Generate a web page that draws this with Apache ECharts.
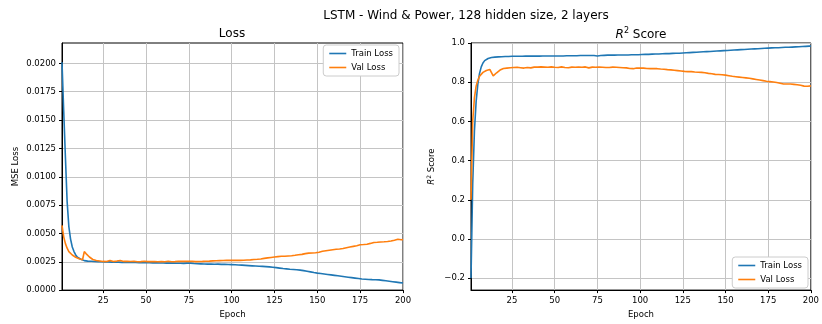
<!DOCTYPE html>
<html>
<head>
<meta charset="utf-8">
<script src="https://cdn.jsdelivr.net/npm/echarts@6/dist/echarts.min.js"></script>
<style>
  html, body { margin: 0; padding: 0; background: #fff; }
  #main { width: 822px; height: 324px; }
</style>
</head>
<body>
<div id="main"></div>
<script>
// values, epochs 1..200
var trainLoss = [
  0.0201, 0.0158, 0.0117, 0.0078, 0.0056, 0.0045, 0.0038, 0.0034, 0.0031, 0.0029,
  0.00280, 0.00272, 0.00265, 0.00260, 0.00258, 0.00256, 0.00255, 0.00254, 0.00253, 0.00252,
  0.00251, 0.00251, 0.00250, 0.00250, 0.00249, 0.00249, 0.00248, 0.00249, 0.00248, 0.00247,
  0.00247, 0.00247, 0.00246, 0.00247, 0.00246, 0.00245, 0.00246, 0.00245, 0.00244, 0.00245,
  0.00244, 0.00244, 0.00243, 0.00244, 0.00243, 0.00242, 0.00243, 0.00242, 0.00242, 0.00241,
  0.00242, 0.00241, 0.00241, 0.00240, 0.00241, 0.00240, 0.00240, 0.00239, 0.00240, 0.00239,
  0.00239, 0.00238, 0.00239, 0.00238, 0.00237, 0.00238, 0.00237, 0.00237, 0.00236, 0.00237,
  0.00236, 0.00236, 0.00237, 0.00238, 0.00240, 0.00238, 0.00236, 0.00234, 0.00233, 0.00232,
  0.00232, 0.00231, 0.00231, 0.00230, 0.00230, 0.00229, 0.00229, 0.00230, 0.00229, 0.00228,
  0.00228, 0.00229, 0.00228, 0.00227, 0.00227, 0.00228, 0.00227, 0.00226, 0.00227, 0.00225,
  0.00225, 0.00224, 0.00223, 0.00222, 0.00221, 0.00220, 0.00219, 0.00218, 0.00217, 0.00216,
  0.00215, 0.00214, 0.00213, 0.00212, 0.00211, 0.00210, 0.00210, 0.00209, 0.00208, 0.00207,
  0.00206, 0.00205, 0.00204, 0.00202, 0.00200, 0.00198, 0.00196, 0.00194, 0.00192, 0.00190,
  0.00188, 0.00187, 0.00185, 0.00184, 0.00183, 0.00182, 0.00180, 0.00179, 0.00178, 0.00176,
  0.00174, 0.00172, 0.00170, 0.00167, 0.00164, 0.00161, 0.00158, 0.00155, 0.00152, 0.00150,
  0.00148, 0.00146, 0.00144, 0.00142, 0.00140, 0.00138, 0.00136, 0.00134, 0.00132, 0.00130,
  0.00128, 0.00126, 0.00124, 0.00122, 0.00120, 0.00118, 0.00116, 0.00114, 0.00112, 0.00110,
  0.00108, 0.00106, 0.00104, 0.00102, 0.00100, 0.00098, 0.00097, 0.00096, 0.00095, 0.00094,
  0.00093, 0.00092, 0.00092, 0.00091, 0.00090, 0.00090, 0.00088, 0.00086, 0.00084, 0.00082,
  0.00080, 0.00078, 0.00076, 0.00074, 0.00072, 0.00070, 0.00068, 0.00066, 0.00064, 0.00062
];
var valLoss = [
  0.0057, 0.0047, 0.0041, 0.0037, 0.0034, 0.0033, 0.0031, 0.0030, 0.0029, 0.0028,
  0.00276, 0.00272, 0.00268, 0.00340, 0.00322, 0.00305, 0.00292, 0.00280, 0.00270, 0.00264,
  0.00261, 0.00259, 0.00257, 0.00255, 0.00253, 0.00254, 0.00252, 0.00253, 0.00262, 0.00255,
  0.00253, 0.00258, 0.00256, 0.00254, 0.00261, 0.00257, 0.00253, 0.00252, 0.00254, 0.00251,
  0.00252, 0.00250, 0.00254, 0.00251, 0.00250, 0.00253, 0.00251, 0.00250, 0.00255, 0.00252,
  0.00251, 0.00254, 0.00252, 0.00250, 0.00251, 0.00253, 0.00250, 0.00254, 0.00252, 0.00251,
  0.00250, 0.00252, 0.00255, 0.00251, 0.00250, 0.00253, 0.00251, 0.00250, 0.00254, 0.00256,
  0.00253, 0.00251, 0.00254, 0.00252, 0.00253, 0.00251, 0.00254, 0.00252, 0.00251, 0.00253,
  0.00252, 0.00254, 0.00253, 0.00252, 0.00255, 0.00254, 0.00256, 0.00255, 0.00258, 0.00257,
  0.00259, 0.00258, 0.00260, 0.00262, 0.00261, 0.00264, 0.00262, 0.00260, 0.00262, 0.00261,
  0.00262, 0.00261, 0.00262, 0.00263, 0.00262, 0.00264, 0.00263, 0.00265, 0.00266, 0.00265,
  0.00267, 0.00268, 0.00270, 0.00271, 0.00272, 0.00274, 0.00275, 0.00277, 0.00280, 0.00282,
  0.00284, 0.00286, 0.00288, 0.00290, 0.00292, 0.00293, 0.00295, 0.00296, 0.00298, 0.00297,
  0.00299, 0.00300, 0.00301, 0.00302, 0.00303, 0.00305, 0.00307, 0.00309, 0.00312, 0.00314,
  0.00315, 0.00318, 0.00322, 0.00324, 0.00326, 0.00326, 0.00327, 0.00328, 0.00329, 0.00331,
  0.00334, 0.00338, 0.00342, 0.00345, 0.00347, 0.00350, 0.00352, 0.00354, 0.00356, 0.00357,
  0.00360, 0.00361, 0.00363, 0.00365, 0.00367, 0.00370, 0.00374, 0.00377, 0.00380, 0.00383,
  0.00386, 0.00389, 0.00392, 0.00396, 0.00400, 0.00401, 0.00402, 0.00403, 0.00405, 0.00409,
  0.00412, 0.00416, 0.00420, 0.00424, 0.00422, 0.00424, 0.00425, 0.00424, 0.00426, 0.00427,
  0.00429, 0.00430, 0.00433, 0.00436, 0.00440, 0.00444, 0.00448, 0.00446, 0.00444, 0.00445
];
var trainR2 = [
  -0.20, 0.28, 0.55, 0.70, 0.79, 0.845, 0.878, 0.898, 0.910, 0.917,
  0.921, 0.924, 0.926, 0.927, 0.928, 0.929, 0.929, 0.930, 0.930, 0.930,
  0.931, 0.931, 0.931, 0.931, 0.932, 0.932, 0.932, 0.931, 0.932, 0.932,
  0.932, 0.932, 0.933, 0.932, 0.933, 0.933, 0.933, 0.933, 0.933, 0.933,
  0.933, 0.933, 0.934, 0.933, 0.934, 0.934, 0.934, 0.934, 0.934, 0.934,
  0.934, 0.934, 0.934, 0.935, 0.934, 0.935, 0.935, 0.935, 0.935, 0.935,
  0.935, 0.935, 0.935, 0.935, 0.936, 0.935, 0.936, 0.936, 0.936, 0.936,
  0.936, 0.936, 0.936, 0.935, 0.934, 0.935, 0.936, 0.937, 0.937, 0.937,
  0.938, 0.938, 0.938, 0.938, 0.938, 0.939, 0.939, 0.938, 0.939, 0.939,
  0.939, 0.939, 0.939, 0.940, 0.940, 0.939, 0.940, 0.940, 0.940, 0.941,
  0.941, 0.941, 0.942, 0.942, 0.942, 0.943, 0.943, 0.943, 0.944, 0.944,
  0.944, 0.945, 0.945, 0.945, 0.946, 0.946, 0.946, 0.947, 0.947, 0.947,
  0.948, 0.948, 0.948, 0.949, 0.949, 0.950, 0.950, 0.951, 0.951, 0.952,
  0.952, 0.953, 0.953, 0.954, 0.954, 0.955, 0.955, 0.956, 0.956, 0.957,
  0.957, 0.958, 0.958, 0.959, 0.959, 0.960, 0.960, 0.961, 0.961, 0.962,
  0.962, 0.963, 0.963, 0.964, 0.964, 0.965, 0.965, 0.966, 0.966, 0.967,
  0.967, 0.968, 0.968, 0.969, 0.969, 0.970, 0.970, 0.971, 0.971, 0.972,
  0.972, 0.973, 0.973, 0.974, 0.974, 0.975, 0.975, 0.975, 0.976, 0.976,
  0.976, 0.977, 0.977, 0.977, 0.978, 0.978, 0.978, 0.979, 0.979, 0.980,
  0.980, 0.980, 0.981, 0.981, 0.982, 0.982, 0.983, 0.983, 0.984, 0.984
];
var valR2 = [
  0.20, 0.60, 0.72, 0.78, 0.81, 0.83, 0.84, 0.85, 0.855, 0.86,
  0.862, 0.865, 0.868, 0.832, 0.840, 0.848, 0.855, 0.862, 0.867, 0.870,
  0.871, 0.872, 0.873, 0.874, 0.876, 0.875, 0.877, 0.876, 0.870, 0.874,
  0.876, 0.872, 0.874, 0.875, 0.871, 0.873, 0.876, 0.877, 0.875, 0.877,
  0.876, 0.878, 0.875, 0.877, 0.878, 0.876, 0.877, 0.878, 0.874, 0.876,
  0.877, 0.875, 0.876, 0.878, 0.877, 0.875, 0.878, 0.874, 0.876, 0.877,
  0.878, 0.876, 0.874, 0.877, 0.878, 0.876, 0.877, 0.878, 0.875, 0.873,
  0.875, 0.877, 0.875, 0.876, 0.875, 0.877, 0.875, 0.876, 0.877, 0.875,
  0.876, 0.875, 0.876, 0.877, 0.875, 0.876, 0.874, 0.875, 0.873, 0.874,
  0.872, 0.873, 0.872, 0.870, 0.871, 0.869, 0.871, 0.872, 0.871, 0.872,
  0.871, 0.872, 0.871, 0.870, 0.871, 0.869, 0.870, 0.869, 0.868, 0.869,
  0.868, 0.867, 0.866, 0.866, 0.865, 0.864, 0.864, 0.863, 0.862, 0.861,
  0.860, 0.859, 0.858, 0.857, 0.856, 0.855, 0.854, 0.854, 0.853, 0.854,
  0.853, 0.852, 0.852, 0.851, 0.851, 0.850, 0.849, 0.848, 0.846, 0.845,
  0.845, 0.843, 0.841, 0.840, 0.839, 0.839, 0.839, 0.838, 0.837, 0.836,
  0.835, 0.833, 0.831, 0.830, 0.829, 0.828, 0.827, 0.826, 0.825, 0.824,
  0.823, 0.822, 0.821, 0.820, 0.819, 0.817, 0.815, 0.814, 0.812, 0.811,
  0.809, 0.808, 0.806, 0.805, 0.803, 0.803, 0.802, 0.801, 0.800, 0.798,
  0.797, 0.795, 0.793, 0.791, 0.792, 0.791, 0.790, 0.791, 0.790, 0.789,
  0.788, 0.787, 0.786, 0.784, 0.782, 0.780, 0.778, 0.779, 0.780, 0.781
];
var epochTicks = [25, 50, 75, 100, 125, 150, 175, 200];
var lossTicks = [0, 0.0025, 0.005, 0.0075, 0.01, 0.0125, 0.015, 0.0175, 0.02];
var r2Ticks = [-0.2, 0, 0.2, 0.4, 0.6, 0.8, 1.0];
var seriesNames = ['Train Loss', 'Val Loss'];

var C_BLUE = '#1f77b4', C_ORANGE = '#ff7f0e';
var FONT = 'DejaVu Sans';

function pairs(arr) {
  var out = [];
  for (var i = 0; i < arr.length; i++) out.push([i + 1, arr[i]]);
  return out;
}

function xAx(gi) {
  return {
    type: 'value', gridIndex: gi, min: 1, max: 200,
    name: 'Epoch', nameLocation: 'middle', nameGap: 17,
    nameTextStyle: { fontFamily: FONT, fontSize: 8.5, color: '#000' },
    axisLine: { show: true, onZero: false, lineStyle: { color: '#000', width: 1 } },
    axisTick: { show: true, customValues: epochTicks, length: 3, lineStyle: { color: '#000' } },
    axisLabel: { customValues: epochTicks, margin: 6, fontFamily: FONT, fontSize: 8.5, color: '#000' },
    splitLine: { show: true, lineStyle: { color: '#c4c4c4', width: 1 } }
  };
}

function yAx(gi, min, max, ticks, digits, name, gap) {
  return {
    type: 'value', gridIndex: gi, min: min, max: max,
    name: name, nameLocation: 'middle', nameGap: gap,
    nameTextStyle: {
      fontFamily: FONT, fontSize: 8.5, color: '#000',
      rich: {
        i: { fontFamily: FONT, fontSize: 8.5, fontStyle: 'italic', color: '#000' },
        s: { fontFamily: FONT, fontSize: 6, color: '#000', verticalAlign: 'top', padding: [0, 0, 5, 0] },
        n: { fontFamily: FONT, fontSize: 8.5, color: '#000' }
      }
    },
    axisLine: { show: true, onZero: false, lineStyle: { color: '#000', width: 1 } },
    axisTick: { show: true, customValues: ticks, length: 3, lineStyle: { color: '#000' } },
    axisLabel: {
      customValues: ticks, margin: 6, fontFamily: FONT, fontSize: 8.5, color: '#000',
      formatter: function (v) { return v < 0 ? '\u2212' + Math.abs(v).toFixed(digits) : v.toFixed(digits); }
    },
    splitLine: { show: true, lineStyle: { color: '#c4c4c4', width: 1 } }
  };
}

function line(name, data, color, xi) {
  return {
    name: name, type: 'line', xAxisIndex: xi, yAxisIndex: xi,
    data: pairs(data), symbol: 'none', smooth: false,
    lineStyle: { color: color, width: 1.6 }, itemStyle: { color: color },
    emphasis: { disabled: true }, animation: false
  };
}

var legendBase = {
  orient: 'vertical', data: seriesNames, icon: 'rect', itemWidth: 17, itemHeight: 1.6, itemGap: 5,
  backgroundColor: '#fff', borderColor: '#cccccc', borderWidth: 1, borderRadius: 3,
  padding: [4, 6, 4, 6],
  textStyle: { fontFamily: FONT, fontSize: 8.5, color: '#000' }
};

var titleFont = { fontFamily: FONT, fontSize: 12, fontWeight: 'normal', color: '#000' };

var option = {
  backgroundColor: '#fff',
  animation: false,
  title: [
    { text: 'LSTM - Wind & Power, 128 hidden size, 2 layers', left: 466, top: 10, textAlign: 'center',
      padding: 0, textStyle: titleFont },
    { text: 'Loss', left: 232, top: 28, textAlign: 'center', padding: 0, textStyle: titleFont },
    { text: '{i|R}{s|2}{n| Score}', left: 641, top: 27, textAlign: 'center', padding: 0,
      textStyle: Object.assign({}, titleFont, {
        rich: {
          i: { fontFamily: FONT, fontSize: 12, fontStyle: 'italic', color: '#000' },
          s: { fontFamily: FONT, fontSize: 8, color: '#000', verticalAlign: 'top', padding: [0, 0, 7, 0] },
          n: { fontFamily: FONT, fontSize: 12, color: '#000' }
        } }) }
  ],
  legend: [
    Object.assign({}, legendBase, { right: 423, top: 45 }),
    Object.assign({}, legendBase, { right: 14, top: 257 })
  ],
  grid: [
    { left: 62, right: 419, top: 43, bottom: 32, show: true, borderColor: '#000', borderWidth: 1, containLabel: false },
    { left: 471, right: 10, top: 43, bottom: 32, show: true, borderColor: '#000', borderWidth: 1, containLabel: false }
  ],
  xAxis: [xAx(0), xAx(1)],
  yAxis: [
    yAx(0, 0, 0.0218, lossTicks, 4, 'MSE Loss', 42),
    yAx(1, -0.261, 1.0, r2Ticks, 1, '{i|R}{s|2}{n| Score}', 34)
  ],
  series: [
    line(seriesNames[0], trainLoss, C_BLUE, 0),
    line(seriesNames[1], valLoss, C_ORANGE, 0),
    line(seriesNames[0], trainR2, C_BLUE, 1),
    line(seriesNames[1], valR2, C_ORANGE, 1)
  ]
};

var myChart = echarts.init(document.getElementById('main'));
myChart.setOption(option);
</script>
</body>
</html>
